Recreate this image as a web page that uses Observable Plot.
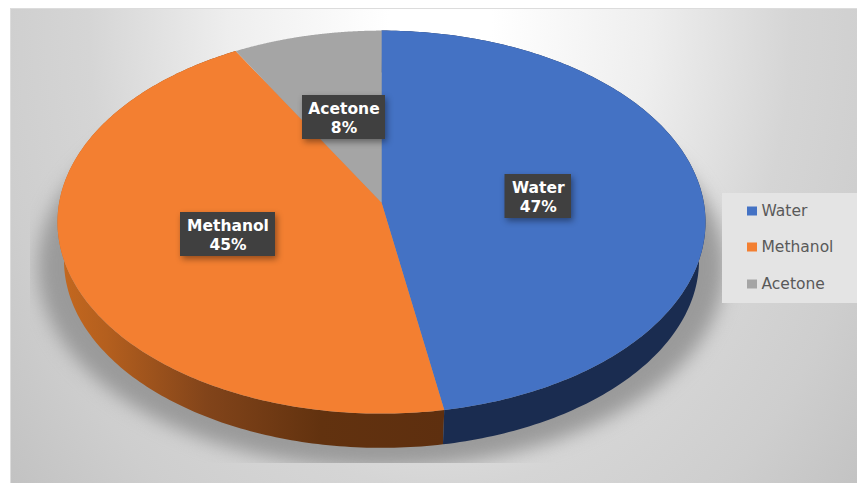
<!DOCTYPE html>
<html>
<head>
<meta charset="utf-8">
<style>html,body{margin:0;padding:0;background:#fff;overflow:hidden}svg{display:block}</style>
<script src="https://cdn.jsdelivr.net/npm/d3@7"></script>
<script src="https://cdn.jsdelivr.net/npm/@observablehq/plot@0.6"></script>
</head>
<body>
<div id="chart"></div>
<script>
const names = ["Water", "Methanol", "Acetone"];
const shares = [47.2, 44.6, 8.2];
const colors = ["#4472C4", "#F37F31", "#A5A5A5"];
const sideColors = ["#1A2C50", "url(#orangeSide)", "#7A7A7A"];

// Tilted-disc projection: k is the perspective strength, depth the rim height.
const k = 0.1023, q = Math.sqrt(1 - k * k);
const project = (theta) => {
  const X = Math.sin(theta), Y = -Math.cos(theta), w = 1 - k * Y;
  return [q * X / w, q * Y / w - k];
};
const depth = 0.2, rimScale = 0.98;
const project2 = (theta) => { const [u, v] = project(theta); return [u * rimScale, v * rimScale + depth]; };
const shadowProj = (theta) => { const [u, v] = project(theta); return [u * 1.06, v * 1.05 + 0.235]; };

const total = d3.sum(shares);
const cum = d3.cumsum(shares);
const bounds = names.map((_, i) => [(i ? cum[i - 1] : 0) / total * 2 * Math.PI, cum[i] / total * 2 * Math.PI]);
const arc = ([a0, a1], f) => d3.range(0, 181).map(j => f(a0 + (a1 - a0) * j / 180));
const apex = [0, -k];

const topFace = i => [apex, ...arc(bounds[i], project)];
const rim = i => [...arc(bounds[i], project), ...arc(bounds[i], project2).reverse()];
const shadow = arc([0, 2 * Math.PI], shadowProj);

// Pixel helpers for the overlay furniture placed in the scale's own space.
const X0 = 57, X1 = 705, Y0 = 31, Y1 = 412;
const ux = p => (p - X0) / (X1 - X0) * 2 - 1;
const uy = p => (p - Y0) / (Y1 - Y0) * 2 - 1;

const labelBoxes = [
  {x1: 504.5, x2: 571, y1: 174, y2: 218},
  {x1: 180, x2: 275, y1: 212, y2: 256},
  {x1: 302, x2: 385, y1: 95, y2: 139}
];
const legendRows = [211, 247, 284];

const defs = () => {
  const d = d3.create("svg:defs");
  const bg = d.append("radialGradient").attr("id", "bg").attr("gradientUnits", "userSpaceOnUse")
    .attr("cx", 0).attr("cy", 0).attr("r", 1)
    .attr("gradientTransform", "translate(440 20) scale(640 850)");
  [[0, "#ffffff"], [0.08, "#ffffff"], [0.33, "#eeeeee"], [0.55, "#d5d5d5"], [0.7, "#cecece"], [1, "#b8b8b8"]]
    .forEach(([o, c]) => bg.append("stop").attr("offset", o).attr("stop-color", c));
  const g = d.append("linearGradient").attr("id", "orangeSide").attr("gradientUnits", "userSpaceOnUse")
    .attr("x1", 60).attr("x2", 443).attr("y1", 0).attr("y2", 0);
  [[0, "#C4681F"], [0.12, "#B45F1E"], [0.38, "#82441A"], [0.68, "#62320F"], [1, "#5E2F0F"]]
    .forEach(([o, c]) => g.append("stop").attr("offset", o).attr("stop-color", c));
  d.append("clipPath").attr("id", "shadowClip").append("rect")
    .attr("x", 30).attr("y", 0).attr("width", 827).attr("height", 463);
  return d.node();
};
const wrap = g => { const o = d3.create("svg:g").attr("clip-path", "url(#shadowClip)"); o.node().append(g); return o.node(); };

const plot = Plot.plot({
  width: 857, height: 483,
  marginTop: 8, marginLeft: 10, marginRight: 0, marginBottom: 0,
  x: {domain: [-1, 1], range: [X0, X1], axis: null},
  y: {domain: [-1, 1], range: [Y0, Y1], axis: null},
  marks: [
    defs,
    Plot.frame({fill: "url(#bg)", stroke: "#dcdcdc"}),
    Plot.line(shadow, {x: d => d[0], y: d => d[1], fill: "#9a9a9a", stroke: "none", imageFilter: "blur(9px)",
      render: (i, s, v, dim, c, next) => wrap(next(i, s, v, dim, c))}),
    ...[1, 0].map(i => Plot.line(rim(i), {x: d => d[0], y: d => d[1], fill: sideColors[i], stroke: "none"})),
    ...names.map((_, i) => Plot.line(topFace(i), {x: d => d[0], y: d => d[1], fill: colors[i], stroke: "none"})),
    Plot.rect(labelBoxes, {x1: d => ux(d.x1), x2: d => ux(d.x2), y1: d => uy(d.y1), y2: d => uy(d.y2),
      fill: "#404040", imageFilter: "drop-shadow(2px 3px 3px rgba(0,0,0,.4))"}),
    Plot.text(names, {
      x: (_, i) => ux((labelBoxes[i].x1 + labelBoxes[i].x2) / 2),
      y: (_, i) => uy((labelBoxes[i].y1 + labelBoxes[i].y2) / 2),
      text: (d, i) => `${d}\n${Math.round(shares[i])}%`,
      fill: "#ffffff", fontWeight: "bold", fontSize: 15.5, fontFamily: "DejaVu Sans", lineHeight: 1.23
    }),
    Plot.rect([0], {x1: ux(722), x2: ux(857), y1: uy(193), y2: uy(303), fill: "#e4e4e4"}),
    Plot.rect(names, {x1: ux(747), x2: ux(757), y1: (_, i) => uy(legendRows[i] - 4.5), y2: (_, i) => uy(legendRows[i] + 4.5),
      fill: (_, i) => colors[i]}),
    Plot.text(names, {x: ux(761), y: (_, i) => uy(legendRows[i]), text: d => d, textAnchor: "start",
      fill: "#595959", fontSize: 15.5, fontFamily: "DejaVu Sans"})
  ]
});
document.getElementById("chart").append(plot);
</script>
</body>
</html>
